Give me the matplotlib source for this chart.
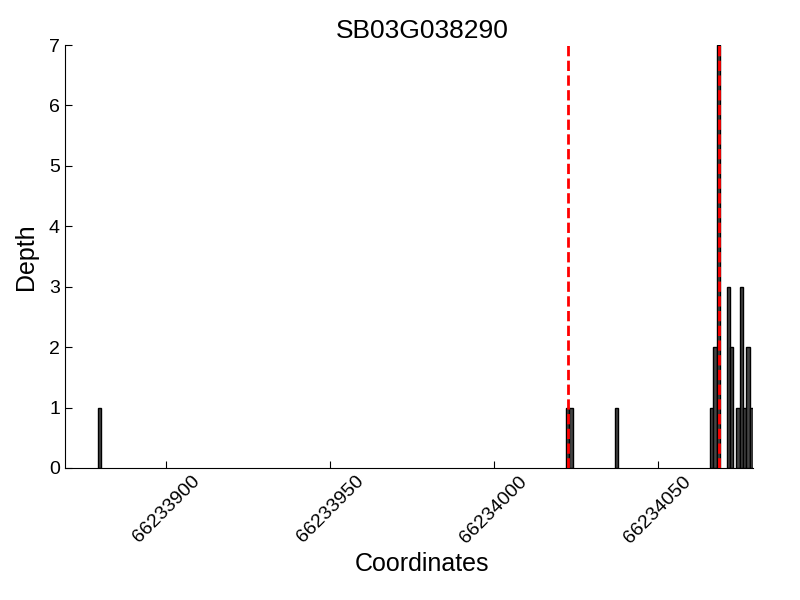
import matplotlib
matplotlib.use("Agg")
import matplotlib.pyplot as plt

plt.rcParams["font.family"] = ["Liberation Sans", "DejaVu Sans"]

gene = "SB03G038290"
positions = [66233879, 66234022, 66234023, 66234037,
             66234066, 66234067, 66234068, 66234071, 66234072,
             66234074, 66234075, 66234076, 66234077, 66234078]
depths = [1, 1, 1, 1,
          1, 2, 7, 3, 2,
          1, 3, 1, 2, 1]
gene_bounds = [66234022.6, 66234068.6]
x_range = (66233869, 66234079)
x_ticks = [66233900, 66233950, 66234000, 66234050]

fig = plt.figure(figsize=(8, 6), dpi=100)
ax = fig.add_axes([0.081, 0.22, 0.86, 0.705])

ax.bar(positions, depths, width=1, align="edge",
       color="#444444", edgecolor="black", linewidth=1, zorder=2)
for b in gene_bounds:
    ax.axvline(b, color="red", linestyle="--", linewidth=2, zorder=3)

ax.set_xlim(*x_range)
ax.set_ylim(0, 7)
ax.set_xticks(x_ticks)
ax.set_xticklabels([str(t) for t in x_ticks], rotation=45, fontsize=14)
ax.set_yticks(range(8))
ax.tick_params(axis="y", labelsize=14)
ax.tick_params(direction="in", length=5, width=0.8, top=False, right=False)

for s in ["top", "right"]:
    ax.spines[s].set_visible(False)

ax.set_title(gene, fontsize=19, pad=5, x=0.519)
ax.set_xlabel("Coordinates", fontsize=18, x=0.519)
ax.set_ylabel("Depth", fontsize=18, labelpad=8)

fig.savefig("out.png", dpi=100)
